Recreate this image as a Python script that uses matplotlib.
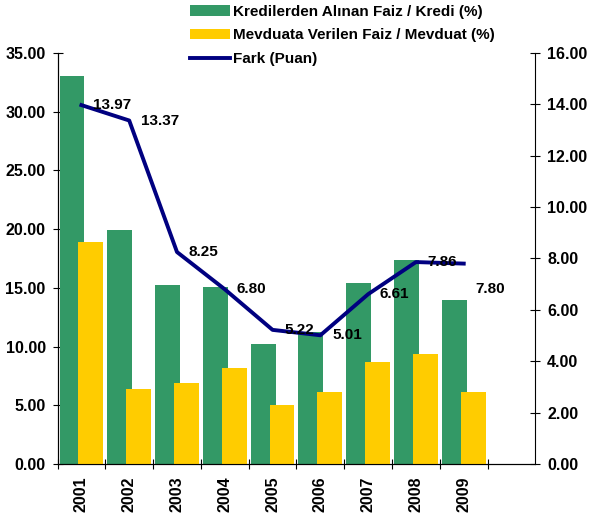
import matplotlib.pyplot as plt
import numpy as np

plt.rcParams['font.family'] = ['Liberation Sans', 'DejaVu Sans']
plt.rcParams['font.weight'] = 'bold'

# data
years = ['2001', '2002', '2003', '2004', '2005', '2006', '2007', '2008', '2009']
kredi = [33.0, 19.9, 15.2, 15.1, 10.2, 11.2, 15.4, 17.4, 14.0]
mevduat = [18.9, 6.4, 6.9, 8.2, 5.0, 6.1, 8.7, 9.4, 6.1]
fark = [13.97, 13.37, 8.25, 6.80, 5.22, 5.01, 6.61, 7.86, 7.80]

green = '#339966'
yellow = '#FFCC00'
navy = '#000080'
fs = 11.5

fig = plt.figure(figsize=(5.9, 5.19), dpi=100)
ax = fig.add_axes([0.0975, 0.106, 0.81, 0.792])
ax2 = ax.twinx()

x = np.arange(len(years))
ax.bar(x - 0.198, kredi, width=0.52, color=green, zorder=2)
ax.bar(x + 0.198, mevduat, width=0.52, color=yellow, zorder=3)
ln, = ax2.plot(x, fark, color=navy, lw=2.8)

# value labels to the right of each point
for i, v in enumerate(fark):
    dy = -18 if i == len(fark) - 1 else 0
    ax2.annotate('%.2f' % v, (x[i], v), xytext=(8.5, dy), textcoords='offset points',
                 ha='left', va='center', fontsize=11, fontweight='bold')

ax.set_xlim(-0.5, 9.5)
ax.set_ylim(0, 35)
ax2.set_ylim(0, 16)
ax.set_yticks(np.arange(0, 35.1, 5))
ax.set_yticklabels(['%.2f' % t for t in np.arange(0, 35.1, 5)])
ax2.set_yticks(np.arange(0, 16.1, 2))
ax2.set_yticklabels(['%.2f' % t for t in np.arange(0, 16.1, 2)])

ax.set_xticks(np.arange(-0.5, 9.0, 1))
ax.set_xticklabels([])
ax.set_xticks(x, minor=True)
ax.set_xticklabels(years, minor=True, rotation=90)
ax.tick_params(axis='x', which='minor', length=0, pad=9)
ax.tick_params(axis='x', which='major', direction='inout', length=7, width=0.8)

for a in (ax, ax2):
    a.tick_params(axis='y', direction='inout', length=7, width=0.8, pad=5)
    for lab in a.get_yticklabels() + a.get_xticklabels(minor=True):
        lab.set_fontweight('bold')
        lab.set_fontsize(fs)
    a.spines['top'].set_visible(False)

ax.spines['right'].set_visible(False)

handles = [ax.patches[0], ax.patches[len(years)], ln]
labels = ['Kredilerden Alınan Faiz / Kredi (%)',
          'Mevduata Verilen Faiz / Mevduat (%)',
          'Fark (Puan)']
leg = fig.legend(handles, labels, loc='upper left', bbox_to_anchor=(0.307, 1.008),
                 frameon=False, fontsize=11, handlelength=2.6, handletextpad=0.2,
                 labelspacing=0.62, borderaxespad=0.2)
for t in leg.get_texts():
    t.set_fontweight('bold')

plt.savefig('out.png', dpi=100)
